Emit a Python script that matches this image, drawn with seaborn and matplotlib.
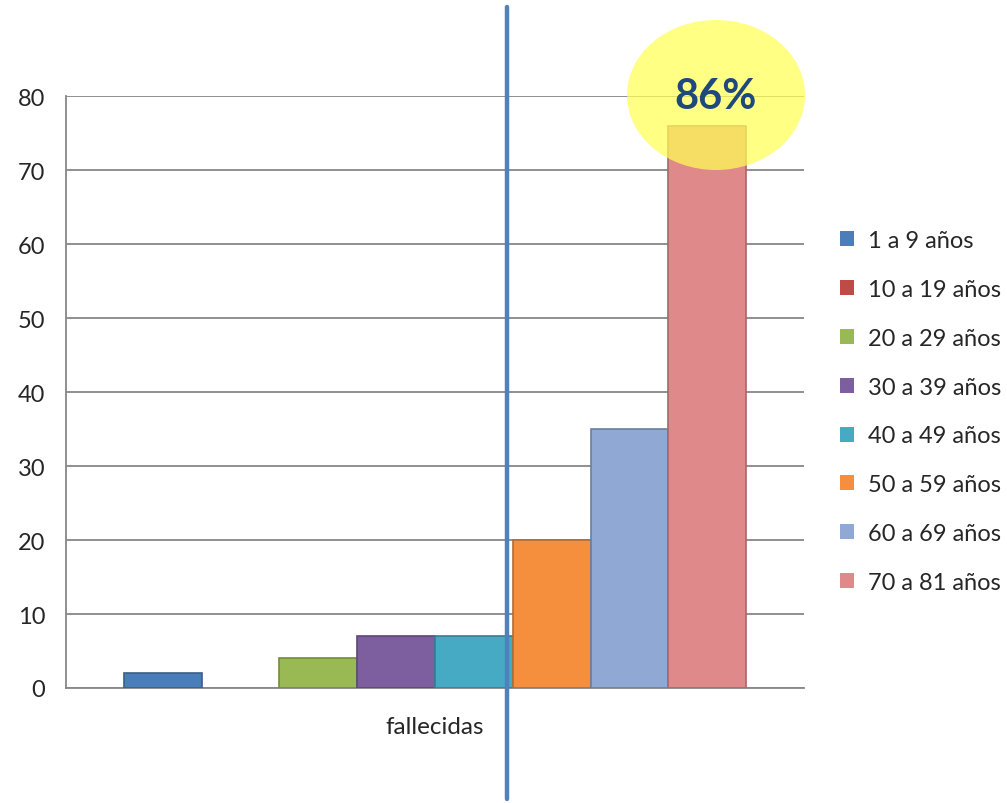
import numpy as np
import pandas as pd
import matplotlib
matplotlib.use("Agg")
import matplotlib.pyplot as plt
import matplotlib.colors as mcolors
from matplotlib.patches import Ellipse
from matplotlib.lines import Line2D
import seaborn as sns

# Data
categoria = "fallecidas"
grupos = ["1 a 9 años", "10 a 19 años", "20 a 29 años", "30 a 39 años",
          "40 a 49 años", "50 a 59 años", "60 a 69 años", "70 a 81 años"]
valores = [2, 0, 4, 7, 7, 20, 35, 76]
colores = ["#4A7EBB", "#BE4B48", "#98B954", "#7D5FA0", "#46AAC4",
           "#F58F3E", "#8FA8D4", "#E0898A"]
y_ticks = [0, 10, 20, 30, 40, 50, 60, 70, 80]
nota = "86%"

df = pd.DataFrame({"cat": [categoria] * len(grupos), "grupo": grupos, "valor": valores})

sns.set_style("white")
plt.rcParams["font.family"] = ["Lato", "DejaVu Sans"]

fig = plt.figure(figsize=(10.07, 8.04), dpi=100)
ax = fig.add_axes([66 / 1007, 1 - 689 / 804, (804 - 66) / 1007, (689 - 97) / 804])

sns.barplot(data=df, x="cat", y="valor", hue="grupo", hue_order=grupos,
            palette=colores, saturation=1, width=0.843, ax=ax, zorder=3)

# darker edges on the bars
for patch in ax.patches:
    fc = np.array(mcolors.to_rgb(patch.get_facecolor()))
    patch.set_edgecolor(fc * 0.75)
    patch.set_linewidth(1.2 if patch.get_height() > 0 else 0)

ax.set_ylim(0, 80)
ax.set_xlim(-0.5, 0.5)
ax.set_yticks(y_ticks)
ax.yaxis.grid(True, color="#878787", linewidth=1.3, zorder=0)
ax.set_axisbelow(True)
ax.tick_params(axis="y", length=7, width=1.3, color="#878787", labelsize=17, pad=8)
ax.set_xticks([0])
ax.set_xticklabels([categoria])
ax.set_xticks([-0.5, 0.5], minor=True)
ax.tick_params(axis="x", which="major", length=0, labelsize=17.5, pad=20)
ax.tick_params(axis="x", which="minor", length=6, width=1.3, color="#878787")
ax.set_xlabel("")
ax.set_ylabel("")
for s in ["top", "right"]:
    ax.spines[s].set_visible(False)
for s in ["left", "bottom"]:
    ax.spines[s].set_color("#878787")
    ax.spines[s].set_linewidth(1.3)

# legend
handles, labels = ax.get_legend_handles_labels()
ax.legend(handles, labels, loc="upper left", bbox_to_anchor=(840 / 1007, 1 - 231 / 804),
          bbox_transform=fig.transFigure, frameon=False, fontsize=17,
          handlelength=0.6, handleheight=0.6, handletextpad=0.6,
          labelspacing=1.18, borderpad=0, borderaxespad=0)

# highlight on the last bar
ell = Ellipse((716 / 1007, 1 - 96 / 804), 178 / 1007, 150 / 804,
              transform=fig.transFigure, facecolor="#FFFF55", alpha=0.72,
              edgecolor="none", zorder=5)
fig.add_artist(ell)
fig.text(716 / 1007, 1 - 97 / 804, nota, ha="center", va="center",
         fontsize=30, fontweight="bold", color="#1F497D", zorder=6)

# vertical divider line
fig.add_artist(Line2D([507 / 1007, 507 / 1007], [1 - 8 / 804, 1 - 800 / 804],
                      transform=fig.transFigure, color="#4F81BD", linewidth=3.2, zorder=7))

fig.savefig("out.png", dpi=100)
